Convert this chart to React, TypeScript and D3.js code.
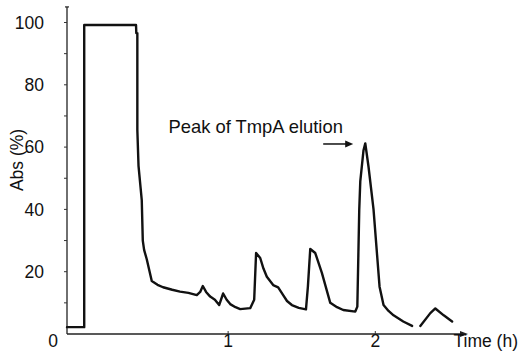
import * as d3 from "d3";

// elution profile (hours, % absorbance); null = gap in the trace
const timeH = [
  -0.095, 0.022, 0.022, 0.374, 0.376, 0.383, 0.383, 0.391, 0.405, 0.413, 0.42, 0.429,
  0.447, 0.481, 0.52, 0.558, 0.62, 0.673, 0.73, 0.787, 0.81, 0.828, 0.85, 0.878, 0.91,
  0.939, 0.966, 0.99, 1.014, 1.05, 1.082, 1.15, 1.177, 1.19, 1.218, 1.24, 1.263, 1.306,
  1.34, 1.374, 1.4, 1.433, 1.48, 1.529, 1.542, 1.558, 1.592, 1.637, 1.694, 1.74, 1.782,
  1.864, 1.878, 1.891, 1.898, 1.92, 1.932, 1.954, 1.988, 2.029, 2.056, 2.09, 2.124, 2.19,
  2.25, 2.28, 2.306, 2.374, 2.408, 2.465, 2.522,
];
const absPct: (number | null)[] = [
  2.2, 2.2, 99.2, 99.2, 96.6, 96.6, 65.5, 54, 47, 43, 30, 27,
  24, 17, 15.8, 15, 14.2, 13.6, 13.2, 12.5, 13.5, 15.4, 13.5, 12, 11,
  9.3, 13, 11, 9.6, 8.6, 8, 8.3, 11, 26, 24.4, 21, 18.4, 15.7,
  15, 12.5, 10.6, 9.3, 8.4, 7.9, 15.2, 27.3, 26, 19.6, 10, 8.6, 7.7,
  7.2, 8.8, 40, 49, 59, 61.2, 53.7, 40, 15.2, 9.3, 7.4, 6, 4,
  2.6, null, 2.6, 6.7, 8.2, 6, 4,
];

const xTicks = [1, 2];
const yTicks = [20, 40, 60, 80, 100];
const yMinor = [10, 20, 30, 40, 50, 60, 70, 80, 90, 100];
const peakNote = "Peak of TmpA elution";

const font = "'Liberation Sans', Arial, sans-serif";

export default function App() {
  const width = 520;
  const height = 357;

  const x = d3.scaleLinear().domain([-0.095, 2.63]).range([67, 468]);
  const y = d3.scaleLinear().domain([0, 100]).range([334, 22.5]);

  const pts = timeH.map((t, i) => ({ t, v: absPct[i] }));
  const line = d3
    .line<{ t: number; v: number | null }>()
    .defined((d) => d.v != null)
    .x((d) => x(d.t))
    .y((d) => y(d.v as number));

  const x0 = x.range()[0];
  const x1 = x.range()[1];
  const yTop = y(105);

  return (
    <svg
      width={width}
      height={height}
      style={{ position: "absolute", left: 0, top: 0, background: "#fff" }}
      fontFamily={font}
    >
      {/* y axis */}
      <line x1={x0} x2={x0} y1={yTop} y2={y(0)} stroke="#222" strokeWidth={1.3} />
      <line x1={x0 - 2} x2={x0 + 2} y1={yTop} y2={yTop} stroke="#222" strokeWidth={1.2} />
      {yMinor.map((v) => (
        <line key={v} x1={x0 - 3} x2={x0} y1={y(v)} y2={y(v)} stroke="#333" strokeWidth={1} />
      ))}
      {yTicks.map((v) => (
        <text key={v} x={44} y={y(v)} dy="0.35em" textAnchor="end" fontSize={17.5} fill="#111">
          {v}
        </text>
      ))}
      <text
        transform={`translate(23,${160}) rotate(-90)`}
        textAnchor="middle"
        fontSize={17.5}
        fill="#111"
      >
        Abs (%)
      </text>

      {/* x axis with arrow */}
      <line x1={x0} x2={x1 - 4} y1={y(0)} y2={y(0)} stroke="#222" strokeWidth={1.3} />
      <path d={`M${x1},${y(0)} L${x1 - 8},${y(0) - 3} L${x1 - 8},${y(0) + 3} Z`} fill="#222" />
      {xTicks.map((t) => (
        <g key={t}>
          <line x1={x(t)} x2={x(t)} y1={y(0)} y2={y(0) - 3} stroke="#333" strokeWidth={1} />
          <text x={x(t)} y={347} textAnchor="middle" fontSize={17.5} fill="#111">
            {t}
          </text>
        </g>
      ))}
      <text x={53} y={347} textAnchor="middle" fontSize={17.5} fill="#111">
        0
      </text>
      <text x={518} y={347} textAnchor="end" fontSize={17.5} fill="#111">
        Time (h)
      </text>

      {/* trace */}
      <path
        d={line(pts) ?? ""}
        fill="none"
        stroke="#111"
        strokeWidth={2.4}
        strokeLinejoin="round"
        strokeLinecap="round"
      />

      {/* annotation */}
      <text x={x(1.78)} y={y(64.5)} textAnchor="end" fontSize={18.4} fill="#111">
        {peakNote}
      </text>
      <line x1={x(1.646)} x2={x(1.83)} y1={y(61)} y2={y(61)} stroke="#111" strokeWidth={1.5} />
      <path
        d={`M${x(1.85)},${y(61)} L${x(1.85) - 8},${y(61) - 3.5} L${x(1.85) - 8},${y(61) + 3.5} Z`}
        fill="#111"
      />
    </svg>
  );
}
